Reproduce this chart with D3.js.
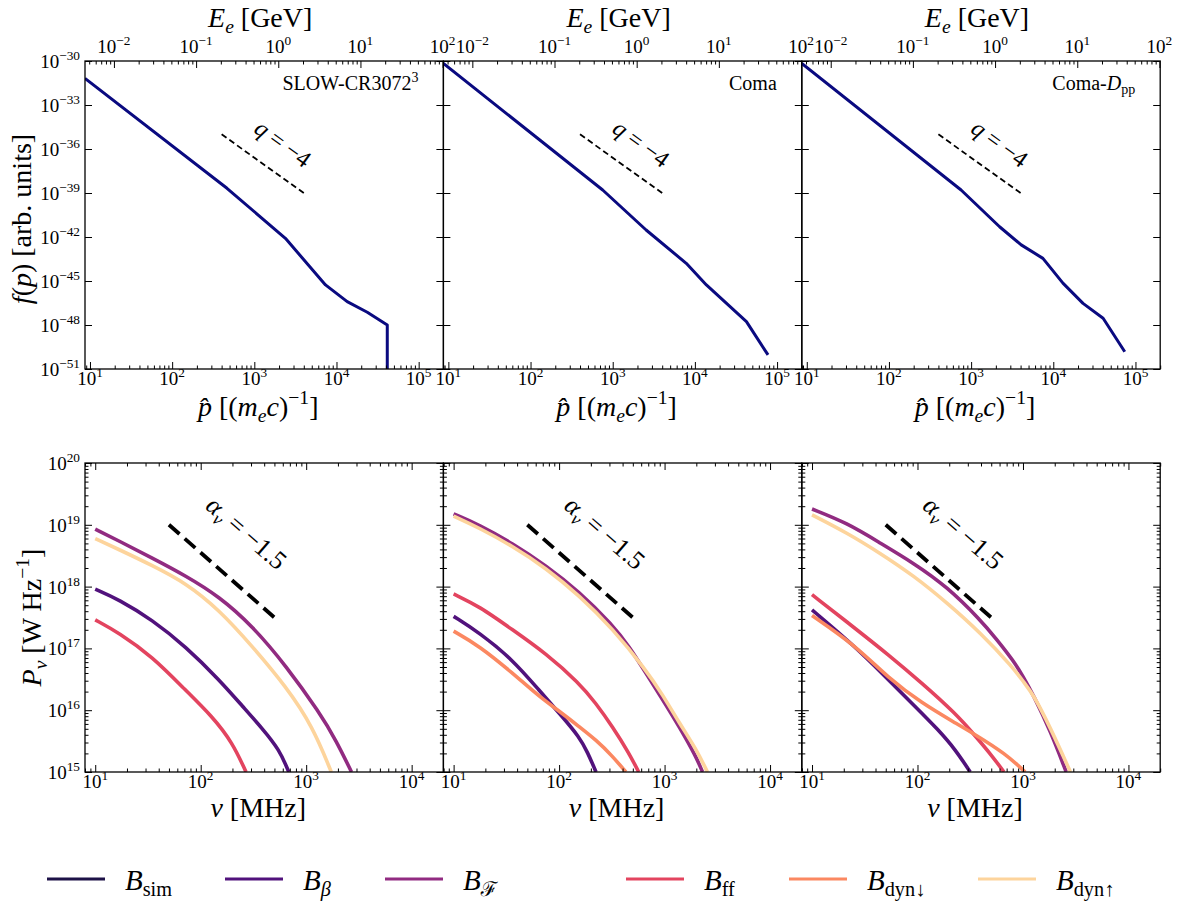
<!DOCTYPE html>
<html>
<head>
<meta charset="utf-8">
<script src="https://cdn.jsdelivr.net/npm/d3@7"></script>
<style>
  body { margin: 0; background: #fff; }
  svg, text, tspan { font-family: "Liberation Serif", "Times New Roman", Tinos, "DejaVu Serif", "Noto Serif", serif; }
  text { fill: #000; }
</style>
</head>
<body>
<svg id="fig" width="1200" height="912" font-family="Liberation Serif, Times New Roman, DejaVu Serif, serif"></svg>
<script>
// ---- data ----
// electron spectra f(p), p in (m_e c), f in arb. units
const spectrumSlow = [[8.7, 6.6e-32], [465, 2.1e-39], [2390, 8.1e-43], [7350, 5.4e-46],
  [13500, 3.9e-47], [23700, 7.4e-48], [41500, 1.0e-48], [41500, 1e-51]];
const spectrumComa = [[8.7, 6.9e-31], [755, 1.6e-39], [2550, 3.0e-42], [7850, 1.6e-44],
  [13800, 5.4e-46], [42400, 1.7e-48], [77600, 9.1e-51]];
const spectrumComaDpp = [[8.7, 6.9e-31], [755, 1.6e-39], [2220, 5.0e-42], [4070, 2.9e-43],
  [7480, 3.5e-44], [13100, 7.1e-46], [23000, 3.0e-47], [40400, 2.9e-48], [74100, 1.5e-50]];
const slopeQ = [[400, 1e-35], [4000, 1e-39]];

// radio spectra P_nu, nu in MHz, P in W/Hz
const slowBbeta = [[10, 9.1e17], [16.7, 6.2e17], [34.7, 2.9e17], [72, 1.07e17], [150, 3.1e16], [250, 1.15e16], [386, 5.0e15], [557, 2.3e15], [684, 1e15]];
const slowBF = [[10, 8.5e18], [16.7, 5.5e18], [34.7, 2.9e18], [72, 1.5e18], [150, 6.9e17], [310, 2.3e17], [646, 5.2e16], [1340, 9.1e15], [1930, 3.2e15], [2690, 1e15]];
const slowBff = [[10, 2.9e17], [16.7, 1.8e17], [34.7, 7.4e16], [72, 2.1e16], [129, 7.9e15], [200, 3.0e15], [269, 1e15]];
const slowBdynUp = [[10, 6.0e18], [16.7, 4.0e18], [34.7, 2.2e18], [72, 1.15e18], [150, 4.2e17], [310, 1.07e17], [646, 2.4e16], [1156, 5.4e15], [1730, 1e15]];

const comaBbeta = [[10, 3.3e17], [17.5, 1.8e17], [36.2, 6.6e16], [64.6, 2.1e16], [107, 7.9e15], [155, 3.7e15], [186, 2.1e15], [224, 1e15]];
const comaBF = [[10, 1.5e19], [17.5, 1.0e19], [36.2, 5.0e18], [75, 2.2e18], [155, 8.3e17], [321, 2.4e17], [462, 1.07e17], [665, 4.0e16], [955, 1.5e16], [1380, 5.4e15], [1980, 1.8e15], [2290, 1e15]];
const comaBff = [[10, 7.6e17], [17.5, 4.8e17], [36.2, 2.0e17], [75, 8.3e16], [155, 2.75e16], [223, 1.3e16], [321, 5.4e15], [462, 2.0e15], [568, 1e15]];
const comaBdynDown = [[10, 1.9e17], [17.5, 1.1e17], [36.2, 4.0e16], [64.6, 1.66e16], [107, 8.9e15], [155, 5.4e15], [224, 3.3e15], [321, 1.8e15], [430, 1e15]];
const comaBdynUp = [[10, 1.38e19], [17.5, 8.9e18], [36.2, 4.5e18], [75, 2.0e18], [155, 7.2e17], [321, 2.1e17], [665, 4.5e16], [955, 1.8e16], [1380, 6.2e15], [1980, 2.4e15], [2550, 1e15]];

const dppBbeta = [[10, 4.2e17], [25.7, 1.07e17], [53, 3.1e16], [95, 1.15e16], [158, 4.8e15], [229, 2.3e15], [316, 1e15]];
const dppBF = [[10, 1.8e19], [21.5, 1.07e19], [44, 5.1e18], [92, 2.4e18], [190, 1e18], [394, 2.9e17], [562, 1.41e17], [813, 6.3e16], [1000, 3.55e16], [1260, 1.74e16], [1820, 4.6e15], [2570, 1e15]];
const dppBff = [[10, 7.4e17], [25.7, 2.1e17], [53, 7.9e16], [110, 2.75e16], [229, 8.9e15], [355, 3.8e15], [513, 1.8e15], [660, 1e15]];
const dppBdynDown = [[10, 3.4e17], [25.7, 1.12e17], [53, 3.3e16], [110, 1.3e16], [229, 6.2e15], [355, 4.0e15], [676, 2.0e15], [1050, 1e15]];
const dppBdynUp = [[10, 1.45e19], [21.5, 7.4e18], [44, 3.5e18], [92, 1.5e18], [190, 5.5e17], [394, 1.8e17], [813, 4.8e16], [1000, 2.95e16], [1260, 1.78e16], [1820, 5.2e15], [2820, 1e15]];

const slopeAlpha = [[50, 1e19], [500, 3.16e17]];

const seriesKeys = ["sim", "beta", "F", "ff", "dynDown", "dynUp"];
const seriesColors = ["#1d1147", "#51127c", "#912b81", "#e3445f", "#fb8861", "#fdd49c"];

const pTicks = [1e1, 1e2, 1e3, 1e4, 1e5];
const eTicks = [1e-2, 1e-1, 1e0, 1e1, 1e2];
const fTicks = [1e-30, 1e-33, 1e-36, 1e-39, 1e-42, 1e-45, 1e-48, 1e-51];
const nuTicks = [1e1, 1e2, 1e3, 1e4];
const powTicks = [1e15, 1e16, 1e17, 1e18, 1e19, 1e20];

const spectra = [spectrumSlow, spectrumComa, spectrumComaDpp];
const radio = [
  { beta: slowBbeta, F: slowBF, ff: slowBff, dynUp: slowBdynUp },
  { beta: comaBbeta, F: comaBF, ff: comaBff, dynDown: comaBdynDown, dynUp: comaBdynUp },
  { beta: dppBbeta, F: dppBF, ff: dppBff, dynDown: dppBdynDown, dynUp: dppBdynUp }
];

// ---- layout ----
const svg = d3.select("#fig");
const W = 358.4;
const px = i => 85 + i * W;
const T = { y0: 61, y1: 369 }, B = { y0: 463, y1: 772 };
const me = 5.11e-4; // GeV per (m_e c)

const xP = d3.scaleLog().domain([8.7, 2.0e5]).range([0, W]);
const xE = d3.scaleLog().domain([8.7 * me, 2.0e5 * me]).range([0, W]);
const yF = d3.scaleLog().domain([1e-51, 1e-30]).range([T.y1 - T.y0, 0]);
const xNu = d3.scaleLog().domain([8, 2e4]).range([0, W]);
const yPw = d3.scaleLog().domain([1e15, 1e20]).range([B.y1 - B.y0, 0]);

function minors(scale) {
  const [a, b] = scale.domain().slice().sort((u, v) => u - v), out = [];
  for (let n = Math.floor(Math.log10(a)); n <= Math.ceil(Math.log10(b)); n++)
    for (let k = 2; k < 10; k++) {
      const v = k * Math.pow(10, n);
      if (v >= a && v <= b) out.push(v);
    }
  return out;
}

// rich text: parts {t, i, sub, sup}
function rich(sel, parts, size) {
  let shift = 0;
  parts.forEach(p => {
    const target = p.sup ? -0.42 * size : p.sub ? 0.22 * size : 0;
    const t = sel.append("tspan").text(p.t).attr("dy", target - shift);
    if (p.sup || p.sub) t.attr("font-size", size * 0.7);
    if (p.i) t.attr("font-style", "italic");
    shift = target;
  });
  return sel;
}
const pow10 = v => {
  const e = Math.round(Math.log10(v));
  return [{ t: "10" }, { t: (e < 0 ? "\u2212" + (-e) : "" + e), sup: true }];
};

function ticks(g, axisFn, scale, vals, len, tx, ty) {
  g.append("g").attr("transform", `translate(${tx},${ty})`)
    .call(axisFn(scale).tickValues(vals).tickSize(-len).tickFormat(""))
    .call(a => { a.select(".domain").remove(); a.selectAll("text").remove(); })
    .selectAll("line").attr("stroke", "#000").attr("stroke-width", 1);
}

const TF = 19; // tick font

// ---- top row: electron spectra ----
const topLabels = [
  [{ t: "SLOW-CR3072" }, { t: "3", sup: true }],
  [{ t: "Coma" }],
  [{ t: "Coma-" }, { t: "D", i: true }, { t: "pp", sub: true }]
];
const H1 = T.y1 - T.y0, H2 = B.y1 - B.y0;

spectra.forEach((spec, i) => {
  const g = svg.append("g").attr("transform", `translate(${px(i)},${T.y0})`);
  g.append("clipPath").attr("id", "ct" + i).append("rect").attr("width", W).attr("height", H1);

  const line = d3.line().x(d => xP(d[0])).y(d => yF(d[1]));
  g.append("path").datum(spec).attr("d", line).attr("clip-path", `url(#ct${i})`)
    .attr("fill", "none").attr("stroke", "#0a0a80").attr("stroke-width", 3).attr("stroke-linejoin", "round");
  g.append("path").datum(slopeQ).attr("d", line)
    .attr("fill", "none").attr("stroke", "#000").attr("stroke-width", 1.8).attr("stroke-dasharray", "6,3.5");

  const cx = xP(1950), cy = yF(8.5e-37);
  rich(g.append("text").attr("text-anchor", "middle").attr("font-size", 24)
    .attr("transform", `translate(${cx},${cy}) rotate(36)`).attr("dy", "0.35em"),
    [{ t: "q", i: true }, { t: " = \u22124" }], 24);

  // ticks
  ticks(g, d3.axisBottom, xP, pTicks, 7, 0, H1);
  ticks(g, d3.axisBottom, xP, minors(xP), 3.5, 0, H1);
  ticks(g, d3.axisTop, xE, eTicks, 7, 0, 0);
  ticks(g, d3.axisTop, xE, minors(xE), 3.5, 0, 0);
  ticks(g, d3.axisLeft, yF, fTicks, 7, 0, 0);
  ticks(g, d3.axisRight, yF, fTicks, 7, W, 0);
  g.append("rect").attr("width", W).attr("height", H1).attr("fill", "none").attr("stroke", "#000").attr("stroke-width", 1.3);

  pTicks.forEach(v => rich(g.append("text").attr("x", xP(v)).attr("y", H1 + 16).attr("text-anchor", "middle").attr("font-size", TF), pow10(v), TF));
  eTicks.forEach(v => rich(g.append("text").attr("x", xE(v)).attr("y", -8).attr("text-anchor", "middle").attr("font-size", TF), pow10(v), TF));
  if (i === 0) fTicks.forEach(v => rich(g.append("text").attr("x", -5).attr("y", yF(v) + 7).attr("text-anchor", "end").attr("font-size", TF), pow10(v), TF));

  rich(g.append("text").attr("x", W - 25).attr("y", 29).attr("text-anchor", "end").attr("font-size", 20), topLabels[i], 20);

  rich(g.append("text").attr("x", W / 2 - 4).attr("y", -34).attr("text-anchor", "middle").attr("font-size", 28),
    [{ t: "E", i: true }, { t: "e", i: true, sub: true }, { t: " [GeV]" }], 28);
  rich(g.append("text").attr("x", W / 2 - 6).attr("y", H1 + 47).attr("text-anchor", "middle").attr("font-size", 28),
    [{ t: "p\u0302", i: true }, { t: " [(" }, { t: "m", i: true }, { t: "e", i: true, sub: true }, { t: "c", i: true }, { t: ")" }, { t: "\u22121", sup: true }, { t: "]" }], 28);
});

rich(svg.append("text").attr("text-anchor", "middle").attr("font-size", 28)
  .attr("transform", `translate(31,${(T.y0 + T.y1) / 2 + 4}) rotate(-90)`),
  [{ t: "f", i: true }, { t: "(" }, { t: "p", i: true }, { t: ") [arb. units]" }], 28);

// ---- bottom row: radio spectra ----
radio.forEach((set, i) => {
  const g = svg.append("g").attr("transform", `translate(${px(i)},${B.y0})`);
  g.append("clipPath").attr("id", "cb" + i).append("rect").attr("width", W).attr("height", H2);
  const line = d3.line().x(d => xNu(d[0])).y(d => yPw(d[1])).curve(d3.curveBasis);

  seriesKeys.forEach((k, j) => {
    if (!set[k]) return;
    g.append("path").datum(set[k]).attr("d", line).attr("clip-path", `url(#cb${i})`)
      .attr("fill", "none").attr("stroke", seriesColors[j]).attr("stroke-width", 3.6);
  });

  g.append("path").datum(slopeAlpha).attr("d", d3.line().x(d => xNu(d[0])).y(d => yPw(d[1])))
    .attr("fill", "none").attr("stroke", "#000").attr("stroke-width", 3.8).attr("stroke-dasharray", "14,7");
  rich(g.append("text").attr("text-anchor", "middle").attr("font-size", 26)
    .attr("transform", `translate(${xNu(240)},${yPw(5.8e18)}) rotate(41)`).attr("dy", "0.35em"),
    [{ t: "\u03b1", i: true }, { t: "\u03bd", i: true, sub: true }, { t: " = \u22121.5" }], 26);

  ticks(g, d3.axisBottom, xNu, nuTicks, 7, 0, H2);
  ticks(g, d3.axisBottom, xNu, minors(xNu), 3.5, 0, H2);
  ticks(g, d3.axisTop, xNu, nuTicks, 7, 0, 0);
  ticks(g, d3.axisTop, xNu, minors(xNu), 3.5, 0, 0);
  ticks(g, d3.axisLeft, yPw, powTicks, 7, 0, 0);
  ticks(g, d3.axisLeft, yPw, minors(yPw), 3.5, 0, 0);
  ticks(g, d3.axisRight, yPw, powTicks, 7, W, 0);
  ticks(g, d3.axisRight, yPw, minors(yPw), 3.5, W, 0);
  g.append("rect").attr("width", W).attr("height", H2).attr("fill", "none").attr("stroke", "#000").attr("stroke-width", 1.3);

  nuTicks.forEach(v => rich(g.append("text").attr("x", xNu(v)).attr("y", H2 + 16).attr("text-anchor", "middle").attr("font-size", TF), pow10(v), TF));
  if (i === 0) powTicks.forEach(v => rich(g.append("text").attr("x", -5).attr("y", yPw(v) + 7).attr("text-anchor", "end").attr("font-size", TF), pow10(v), TF));

  rich(g.append("text").attr("x", W / 2 - 6).attr("y", H2 + 45).attr("text-anchor", "middle").attr("font-size", 28),
    [{ t: "\u03bd", i: true }, { t: " [MHz]" }], 28);
});

rich(svg.append("text").attr("text-anchor", "middle").attr("font-size", 28)
  .attr("transform", `translate(41,${(B.y0 + B.y1) / 2}) rotate(-90)`),
  [{ t: "P", i: true }, { t: "\u03bd", i: true, sub: true }, { t: " [W Hz" }, { t: "\u22121", sup: true }, { t: "]" }], 28);

// ---- legend ----
const legendSubs = [
  [{ t: "sim", sub: true }],
  [{ t: "\u03b2", i: true, sub: true }],
  [{ t: "\u2131", sub: true }],
  [{ t: "ff", sub: true }],
  [{ t: "dyn\u2193", sub: true }],
  [{ t: "dyn\u2191", sub: true }]
];
const legendX = [47, 225, 385, 626, 789, 978];
const leg = svg.append("g").attr("transform", "translate(0,879)");
seriesKeys.forEach((k, j) => {
  leg.append("line").attr("x1", legendX[j]).attr("x2", legendX[j] + 58)
    .attr("stroke", seriesColors[j]).attr("stroke-width", 3);
  rich(leg.append("text").attr("x", legendX[j] + 78).attr("y", 11).attr("font-size", 29),
    [{ t: "B", i: true }].concat(legendSubs[j]), 29);
});
</script>
</body>
</html>
